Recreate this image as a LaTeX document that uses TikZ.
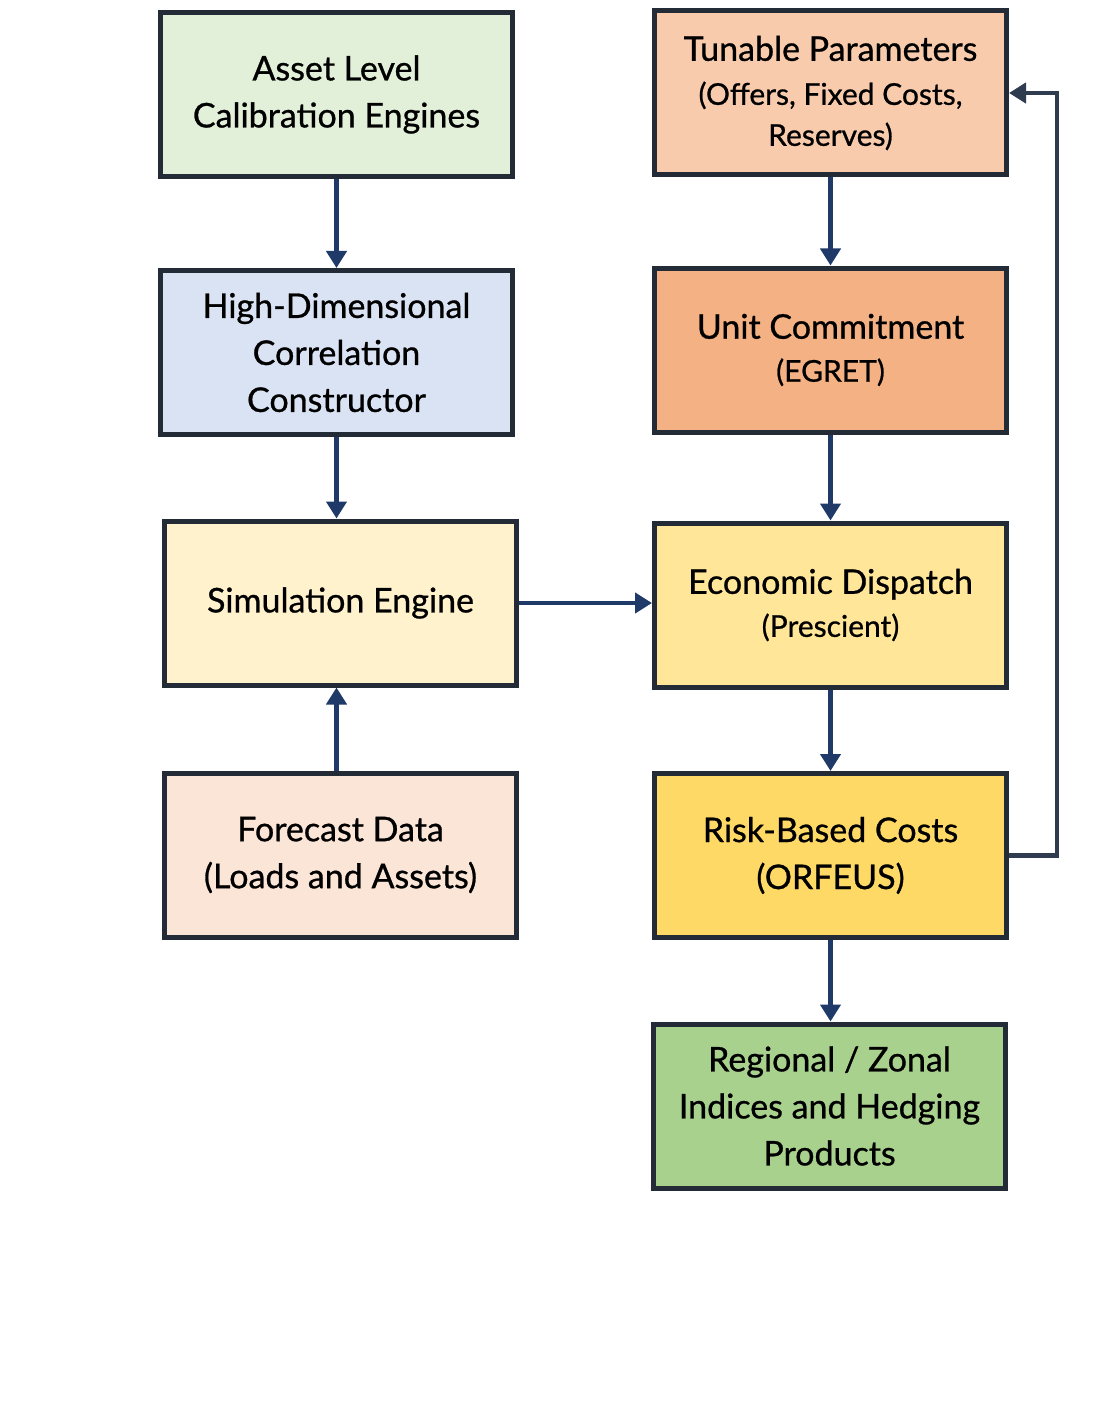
\documentclass[tikz,border=0pt]{standalone}
\usepackage{fontspec}
\setmainfont{Lato}[FakeBold=0.8]
\usetikzlibrary{arrows.meta}
\definecolor{bordc}{HTML}{222B36}
\definecolor{arrc}{HTML}{1F3A68}
\definecolor{fbc}{HTML}{2F3B4E}
\definecolor{cA}{HTML}{E2F0D9}
\definecolor{cB}{HTML}{DAE3F3}
\definecolor{cC}{HTML}{FFF2CC}
\definecolor{cD}{HTML}{FBE5D6}
\definecolor{cE}{HTML}{F8CBAD}
\definecolor{cF}{HTML}{F4B183}
\definecolor{cG}{HTML}{FFE699}
\definecolor{cH}{HTML}{FFD966}
\definecolor{cI}{HTML}{A9D18E}
\newcommand{\mainsz}{\fontsize{34}{47}\selectfont}
\newcommand{\subsz}{\fontsize{30}{42}\selectfont}
\begin{document}
\begin{tikzpicture}[x=1pt,y=-1pt,
  box/.style={draw=bordc,line width=5pt,minimum width=352pt,minimum height=164pt,
    align=center,inner sep=0pt,font=\mainsz},
  arr/.style={draw=arrc,line width=4.5pt,-{Triangle[width=20pt,length=17pt]}},
  fb/.style={draw=fbc,line width=4.5pt,-{Triangle[width=20pt,length=17pt]}}]
\useasboundingbox (0,0) rectangle (1103,1415);
\node[box,fill=cA] (A) at (336.5,94.5) {Asset Level\\Calibration Engines};
\node[box,fill=cB] (B) at (336.5,352.5) {High-Dimensional\\Correlation\\Constructor};
\node[box,fill=cC] (C) at (340.5,603) {Simulation Engine};
\node[box,fill=cD] (D) at (340.5,855) {Forecast Data\\(Loads and Assets)};
\node[box,fill=cE] (E) at (830.5,93) {Tunable Parameters\\[-3pt]{\subsz(Offers, Fixed Costs,}\\[-6pt]{\subsz Reserves)}};
\node[box,fill=cF] (F) at (830.5,350) {Unit Commitment\\[-4pt]{\subsz(EGRET)}};
\node[box,fill=cG] (G) at (830.5,605) {Economic Dispatch\\[-4pt]{\subsz(Prescient)}};
\node[box,fill=cH] (H) at (830.5,855.5) {Risk-Based Costs\\(ORFEUS)};
\node[box,fill=cI] (I) at (829.5,1106) {Regional / Zonal\\Indices and Hedging\\Products};
\draw[arr] (A.south) -- (B.north);
\draw[arr] (B.south) -- (B.south |- C.north);
\draw[arr] (D.north -| B.south) -- (B.south |- C.south);
\draw[arr] (C.east) -- (C.east -| G.west);
\draw[arr] (E.south) -- (F.north);
\draw[arr] (F.south) -- (G.north);
\draw[arr] (G.south) -- (H.north);
\draw[arr] (H.south) -- (H.south |- I.north);
\coordinate (fbx) at ([xshift=48pt]H.east);
\draw[fb] (H.east) -- (fbx) |- (E.east);
\end{tikzpicture}
\end{document}
